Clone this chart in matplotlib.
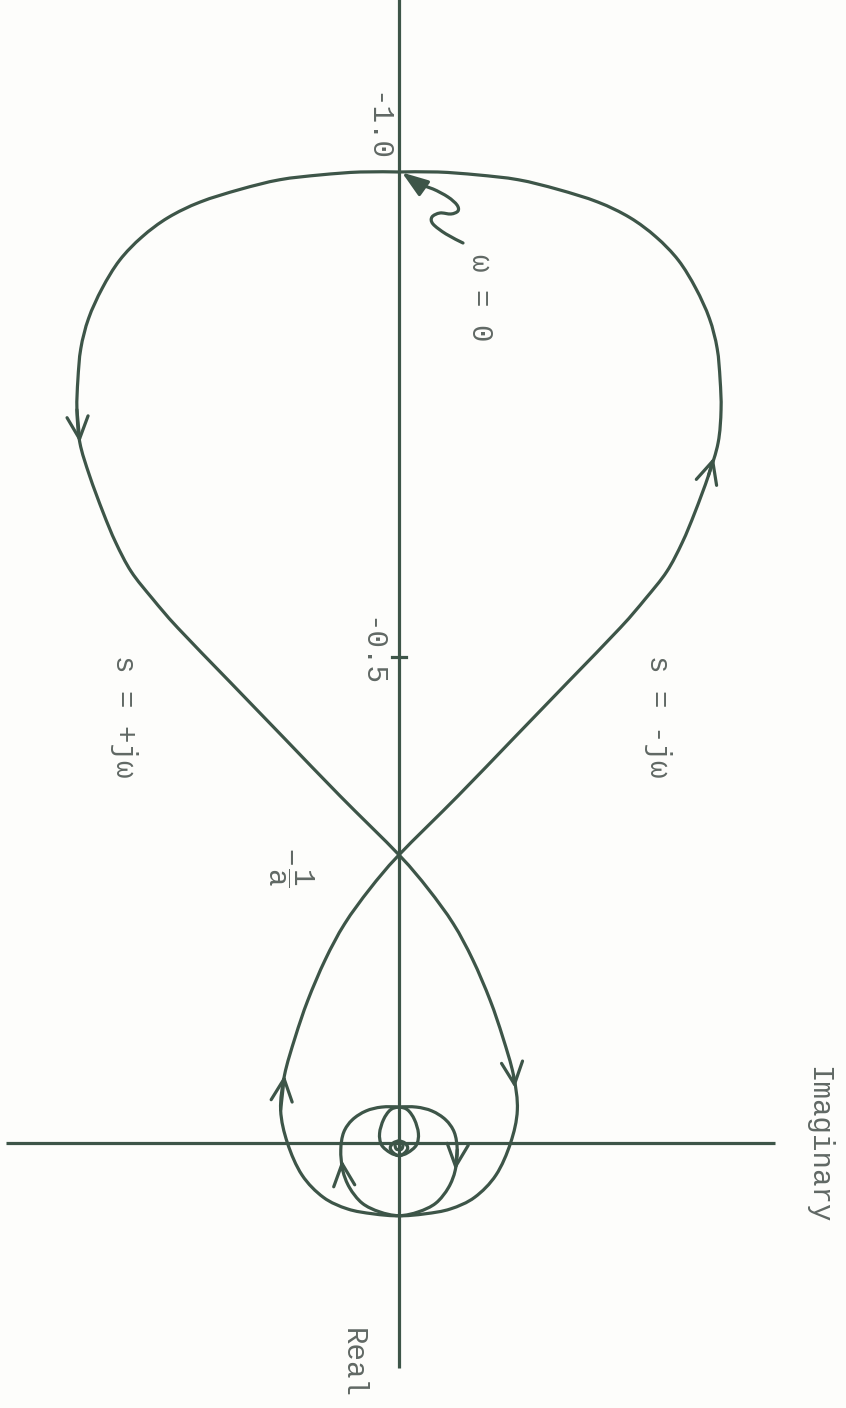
import matplotlib
matplotlib.use("Agg")
import matplotlib.pyplot as plt
from matplotlib.path import Path
from matplotlib.patches import PathPatch

# Nyquist locus G(jw), s = +jw branch, traced from w = 0 (at -1) towards w -> infinity (origin)
re_pos = [-1.000, -1.000, -0.997, -0.992, -0.982, -0.969, -0.953, -0.933, -0.909, -0.880,
          -0.849, -0.818, -0.786, -0.755, -0.721, -0.687, -0.649, -0.618, -0.588, -0.560,
          -0.530, -0.474, -0.416, -0.357, -0.296, -0.261, -0.225, -0.188, -0.146, -0.108,
          -0.069, -0.033, 0.001, 0.034, 0.057, 0.069, 0.074, 0.076, 0.072, 0.063,
          0.047, 0.029, 0.008, -0.010, -0.023, -0.032, -0.036, -0.036, -0.033, -0.023,
          -0.009, 0.003, 0.011, 0.014, 0.011, 0.006, 0.001, -0.001, 0.002, 0.007, 0.008]
im_pos = [0.000, -0.040, -0.081, -0.123, -0.164, -0.205, -0.238, -0.265, -0.288, -0.306,
          -0.320, -0.328, -0.331, -0.332, -0.329, -0.319, -0.305, -0.292, -0.276, -0.254,
          -0.228, -0.174, -0.118, -0.061, 0.000, 0.030, 0.056, 0.076, 0.094, 0.107,
          0.118, 0.122, 0.115, 0.100, 0.078, 0.053, 0.027, 0.000, -0.020, -0.038,
          -0.051, -0.058, -0.060, -0.057, -0.048, -0.034, -0.018, 0.000, 0.009, 0.016,
          0.020, 0.018, 0.009, 0.000, -0.006, -0.009, -0.006, 0.000, 0.004, 0.003, 0.000]

# s = -jw branch is the complex conjugate, traversed from the origin back to -1
re_neg = re_pos[::-1]
im_neg = [-v for v in im_pos[::-1]]

# labelled points on the real axis
re_ticks = [-1.0, -0.5]
re_cross = -0.296          # -1/a crossing

LINE = "#3d5548"
TEXT = "#606864"
LW = 2.3

fig = plt.figure(figsize=(8.46, 14.08), dpi=100)
fig.patch.set_facecolor("#fdfdfb")
ax = fig.add_axes([0, 0, 1, 1])
ax.set_facecolor("#fdfdfb")
# imaginary part runs horizontally, real part vertically (-1 at the top)
ax.set_xlim(-0.4113, 0.4608)
ax.set_ylim(0.2742, -1.1773)
ax.axis("off")


def smooth_curve(xs, ys, **kw):
    """Draw a smooth line through the given points (Catmull-Rom as cubic Bezier)."""
    pts = list(zip(xs, ys))
    n = len(pts)
    verts = [pts[0]]
    codes = [Path.MOVETO]
    for i in range(n - 1):
        p0 = pts[i - 1] if i > 0 else pts[i]
        p1, p2 = pts[i], pts[i + 1]
        p3 = pts[i + 2] if i + 2 < n else pts[i + 1]
        c1 = (p1[0] + (p2[0] - p0[0]) / 6, p1[1] + (p2[1] - p0[1]) / 6)
        c2 = (p2[0] - (p3[0] - p1[0]) / 6, p2[1] - (p3[1] - p1[1]) / 6)
        verts += [c1, c2, p2]
        codes += [Path.CURVE4] * 3
    ax.add_patch(PathPatch(Path(verts, codes), fill=False, **kw))


# axes of the complex plane
ax.plot([0, 0], [-1.18, 0.233], color=LINE, lw=LW, solid_capstyle="butt")
ax.plot([-0.405, 0.388], [0.001, 0.001], color=LINE, lw=LW, solid_capstyle="butt")
ax.plot([-0.007, 0.007], [re_ticks[1], re_ticks[1]], color=LINE, lw=LW)

# the locus
style = dict(edgecolor=LINE, lw=LW, joinstyle="round", capstyle="round")
smooth_curve(im_pos, re_pos, **style)
smooth_curve(im_neg, re_neg, **style)


def flow_arrow(sign, i0, i1, t):
    x0, y0 = sign * im_pos[i0], re_pos[i0]
    x1, y1 = sign * im_pos[i1], re_pos[i1]
    tip = (x0 + t * (x1 - x0), y0 + t * (y1 - y0))
    ax.annotate("", xy=tip, xytext=(x0, y0),
                arrowprops=dict(arrowstyle="->,head_length=0.8,head_width=0.38",
                                color=LINE, lw=LW, shrinkA=0, shrinkB=0,
                                mutation_scale=20))


# direction of increasing w on s = +jw
flow_arrow(1, 13, 14, 1.0)
flow_arrow(1, 30, 31, 0.37)
flow_arrow(1, 41, 42, 0.5)
# and on s = -jw
flow_arrow(-1, 15, 14, 0.55)
flow_arrow(-1, 31, 30, 1.0)
flow_arrow(-1, 42, 41, 1.0)

# wavy pointer to the w = 0 point
sq_x = [(x - 399) / 970 for x in [418, 433, 448, 457, 458, 451, 440, 432, 433, 446, 463]]
sq_y = [(y - 1142) / 970 for y in [184, 189, 197, 205, 211, 214, 213, 217, 224, 234, 243]]
smooth_curve(sq_x, sq_y, **style)
ax.annotate("", xy=(0.003, -0.9995), xytext=(sq_x[0], sq_y[0]),
            arrowprops=dict(arrowstyle="-|>,head_length=0.8,head_width=0.28",
                            color=LINE, lw=LW, shrinkA=0, shrinkB=0, mutation_scale=20))

plt.rcParams["mathtext.fontset"] = "custom"
plt.rcParams["mathtext.rm"] = "Liberation Mono"
plt.rcParams["mathtext.it"] = "Liberation Mono"

font = dict(family=["Liberation Mono", "DejaVu Sans Mono"], fontsize=21, color=TEXT,
            rotation=-90, ha="center", va="center")

ax.text(-0.0237, -1.0464, "-1.0", **font)
ax.text(-0.030, -0.505, "-0.5", **font)
ax.text(0.0835, -0.870, "ω = 0", **font)
ax.text(0.267, -0.439, "s = -jω", **font)
ax.text(-0.2835, -0.439, "s = +jω", **font)
ax.text(-0.112, re_cross + 0.012, r"$-\,\dfrac{1}{\mathrm{a}}$", **font)
ax.text(0.432, 0.003, "Imaginary", **font)
ax.text(-0.048, 0.228, "Real", **font)

fig.savefig("out.png", dpi=100, facecolor=fig.get_facecolor())
